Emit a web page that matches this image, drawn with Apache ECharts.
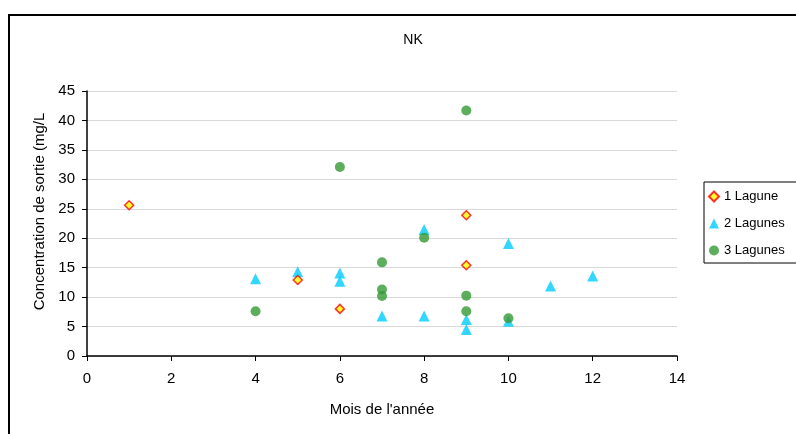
<!DOCTYPE html>
<html>
<head>
<meta charset="utf-8">
<script src="https://cdn.jsdelivr.net/npm/echarts@6/dist/echarts.min.js"></script>
<style>html,body{margin:0;padding:0;background:#fff}#c{width:796px;height:434px}</style>
</head>
<body>
<div id="c"></div>
<script>
const seriesNames = ['1 Lagune', '2 Lagunes', '3 Lagunes'];
const lagune1 = [[1, 25.6], [5, 12.9], [6, 8.0], [9, 23.9], [9, 15.4]];
const lagune2 = [[4, 13.1], [5, 14.3], [6, 14.1], [6, 12.7], [7, 6.8], [8, 6.8], [8, 21.5],
                 [9, 6.2], [9, 4.5], [10, 19.1], [10, 5.9], [11, 11.9], [12, 13.6]];
const lagune3 = [[4, 7.6], [6, 32.1], [7, 15.9], [7, 11.3], [7, 10.2], [8, 20.1],
                 [9, 41.7], [9, 10.25], [9, 7.6], [10, 6.4]];
const xTicks = [0, 2, 4, 6, 8, 10, 12, 14];
const yTicks = [0, 5, 10, 15, 20, 25, 30, 35, 40, 45];

const chart = echarts.init(document.getElementById('c'), null, {renderer: 'canvas'});
const font = 'Liberation Sans, Arial, sans-serif';
chart.setOption({
  animation: false,
  backgroundColor: '#fff',
  textStyle: {fontFamily: font},
  title: {text: 'NK', left: 408, top: 28, textAlign: 'center',
    textStyle: {fontFamily: font, fontSize: 14, fontWeight: 'normal', color: '#000'}},
  graphic: [{type: 'rect', shape: {x: 9, y: 15, width: 800, height: 440},
    style: {fill: 'none', stroke: '#000', lineWidth: 2}, z: 100}],
  legend: {
    orient: 'vertical', left: 704, top: 182,
    data: seriesNames,
    borderColor: '#000', borderWidth: 1, borderRadius: 0,
    padding: [8, 20, 6, 4],
    itemWidth: 10, itemHeight: 10, itemGap: 14,
    textStyle: {fontFamily: font, fontSize: 13, color: '#000'}
  },
  grid: {left: 87, right: 119, top: 91, bottom: 78},
  xAxis: {
    type: 'value', min: xTicks[0], max: xTicks[xTicks.length - 1], interval: 2,
    name: "Mois de l'année", nameLocation: 'middle', nameGap: 46,
    nameTextStyle: {fontFamily: font, fontSize: 15, color: '#000'},
    axisLine: {show: true, lineStyle: {color: '#000', width: 1.5}},
    axisTick: {show: true, length: 5, lineStyle: {color: '#000'}},
    axisLabel: {margin: 15, fontFamily: font, fontSize: 15, color: '#000'},
    splitLine: {show: false}
  },
  yAxis: {
    type: 'value', min: yTicks[0], max: yTicks[yTicks.length - 1], interval: 5,
    name: 'Concentration de sortie (mg/L', nameLocation: 'middle', nameGap: 39,
    nameTextStyle: {fontFamily: font, fontSize: 15, color: '#000', padding: [0, 0, 0, 24]},
    axisLine: {show: true, lineStyle: {color: '#000', width: 1.5}},
    axisTick: {show: true, length: 5, lineStyle: {color: '#000'}},
    axisLabel: {margin: 12, fontFamily: font, fontSize: 15, color: '#000'},
    splitLine: {show: true, lineStyle: {color: '#d9d9d9', width: 1}}
  },
  series: [
    {name: seriesNames[0], type: 'scatter', data: lagune1, symbol: 'diamond', symbolSize: 9,
     itemStyle: {color: '#ffff00', borderColor: '#ff0000', borderWidth: 1.5}, z: 3},
    {name: seriesNames[1], type: 'scatter', data: lagune2, symbol: 'triangle', symbolSize: 11,
     itemStyle: {color: '#00ccff'}, z: 2},
    {name: seriesNames[2], type: 'scatter', data: lagune3, symbol: 'circle', symbolSize: 10,
     itemStyle: {color: '#339933'}, z: 4}
  ]
});
</script>
</body>
</html>
